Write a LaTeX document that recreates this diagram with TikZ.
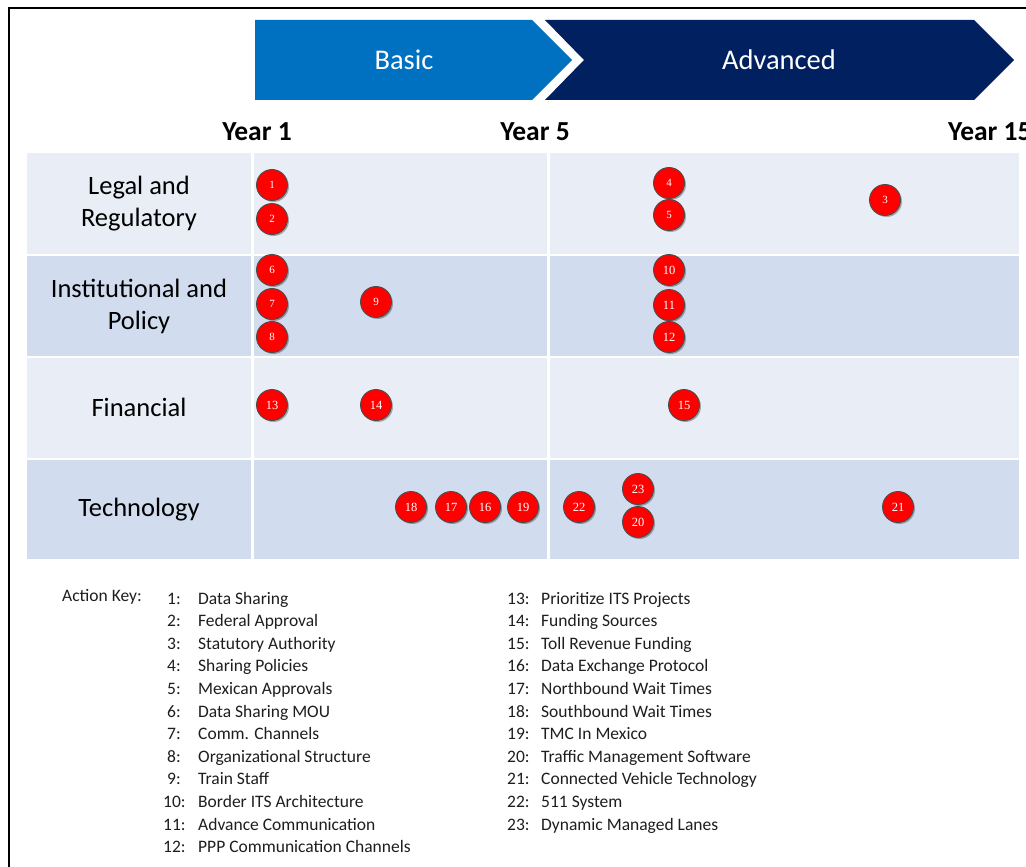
\documentclass[tikz,border=0pt]{standalone}
\usepackage{fontspec}
\setmainfont{Carlito}
\newfontfamily\numfont{Liberation Serif}
\usetikzlibrary{shadows}
\definecolor{basicblue}{HTML}{0070C0}
\definecolor{advblue}{HTML}{002060}
\definecolor{rowlight}{HTML}{E9EDF5}
\definecolor{rowdark}{HTML}{D1DCEE}
\definecolor{keytext}{HTML}{1E1E1E}
\begin{document}
\begin{tikzpicture}[x=1pt,y=-1pt,
  dotnode/.style={circle, fill=red, draw=black!70, line width=0.9pt, minimum size=31pt, inner sep=0pt, text=white,
    drop shadow={shadow xshift=1.5pt, shadow yshift=-1.5pt, opacity=0.3, fill=black}},
  onedig/.style={dotnode, font=\numfont\fontsize{11}{11}\selectfont},
  twodig/.style={dotnode, font=\numfont\fontsize{12.5}{12.5}\selectfont},
  rowlabel/.style={font=\fontsize{26.5}{32}\selectfont, align=center, text=black},
  yearlabel/.style={font=\bfseries\fontsize{27.5}{30}\selectfont, text=black},
  phaselabel/.style={font=\fontsize{28.5}{32}\selectfont, text=white},
  keyitem/.style={font=\fontsize{17.5}{20}\selectfont, text=keytext, anchor=base west, inner sep=0pt}
]
\useasboundingbox (0,0) rectangle (1026,867);
\fill[white] (0,0) rectangle (1026,867);
% frame
\draw[line width=2.5pt, black] (9,867) -- (9,8) -- (1026,8);

% phase arrows
\fill[basicblue] (255,20) -- (532,20) -- (572,60) -- (532,100) -- (255,100) -- cycle;
\fill[advblue] (545,20) -- (974,20) -- (1014,60) -- (974,100) -- (545,100) -- (584,60) -- cycle;
\node[phaselabel] (basic) at (404,60) {Basic};
\node[phaselabel] (adv) at (779,60) {Advanced};

% years
\node[yearlabel] (y1) at (257,132) {Year 1};
\node[yearlabel] (y5) at (535,132) {Year 5};
\node[yearlabel, anchor=west, inner sep=0pt] (y15) at (948,132) {Year 15};

% rows
\fill[rowlight] (27,153) rectangle (1019,254);
\fill[rowdark]  (27,256) rectangle (1019,356);
\fill[rowlight] (27,358) rectangle (1019,458);
\fill[rowdark]  (27,460) rectangle (1019,559);
\fill[white] (251,153) rectangle (253.5,559);
\fill[white] (547,153) rectangle (549.5,559);

\node[rowlabel] (legal) at (139,204) {Legal and\\Regulatory};
\node[rowlabel] (inst) at (139,306) {Institutional and\\Policy};
\node[rowlabel] (fin) at (139,407) {Financial};
\node[rowlabel] (tech) at (139,510) {Technology};

% action dots
\node[onedig] (a1) at (272,185) {1};
\node[onedig] (a2) at (272,219) {2};
\node[onedig] (a6) at (272,270) {6};
\node[onedig] (a7) at (272,304) {7};
\node[onedig] (a8) at (272,337) {8};
\node[onedig] (a9) at (376,302) {9};
\node[onedig] (a4) at (669,183) {4};
\node[onedig] (a5) at (669,215) {5};
\node[onedig] (a3) at (885,200) {3};
\node[twodig] (a10) at (669,270) {10};
\node[twodig] (a11) at (669,305) {11};
\node[twodig] (a12) at (669,337) {12};
\node[twodig] (a13) at (272,405) {13};
\node[twodig] (a14) at (376,405) {14};
\node[twodig] (a15) at (684,405) {15};
\node[twodig] (a18) at (411,507) {18};
\node[twodig] (a17) at (451,507) {17};
\node[twodig] (a16) at (485,507) {16};
\node[twodig] (a19) at (523,507) {19};
\node[twodig] (a22) at (579,507) {22};
\node[twodig] (a23) at (638,489) {23};
\node[twodig] (a20) at (638,522) {20};
\node[twodig] (a21) at (898,507) {21};

% key
\node[keyitem] (keytitle) at (62,601) {Action Key:};
\foreach \n/\t [count=\i from 0] in {1/Data Sharing, 2/Federal Approval, 3/Statutory Authority, 4/Sharing Policies,
  5/Mexican Approvals, 6/Data Sharing MOU, 7/Comm. Channels, 8/Organizational Structure, 9/Train Staff}
{
  \node[keyitem] (kn\n) at (167,604+22.6*\i) {\n:};
  \node[keyitem] (kt\n) at (198,604+22.6*\i) {\t};
}
\foreach \n/\t [count=\i from 9] in {10/Border ITS Architecture, 11/Advance Communication, 12/PPP Communication Channels}
{
  \node[keyitem] (kn\n) at (163,604+22.6*\i) {\n:};
  \node[keyitem] (kt\n) at (198,604+22.6*\i) {\t};
}
\foreach \n/\t [count=\i from 0] in {13/Prioritize ITS Projects, 14/Funding Sources, 15/Toll Revenue Funding,
  16/Data Exchange Protocol, 17/Northbound Wait Times, 18/Southbound Wait Times, 19/TMC In Mexico,
  20/Traffic Management Software, 21/Connected Vehicle Technology, 22/511 System, 23/Dynamic Managed Lanes}
{
  \node[keyitem] (kn\n) at (507,604+22.6*\i) {\n:};
  \node[keyitem] (kt\n) at (541,604+22.6*\i) {\t};
}
\end{tikzpicture}
\end{document}
